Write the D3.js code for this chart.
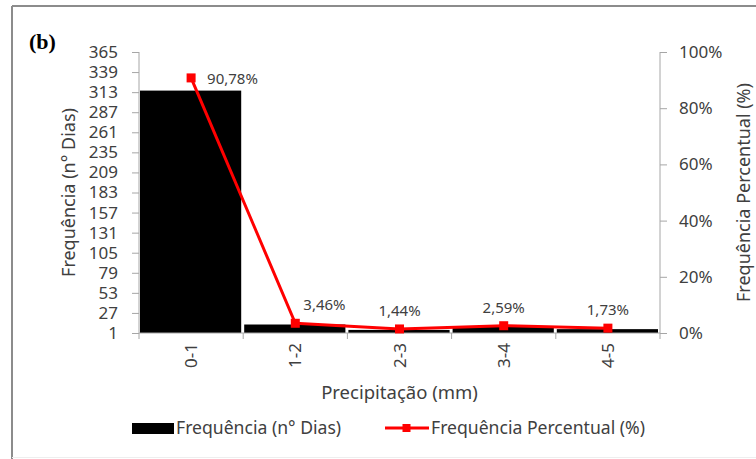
<!DOCTYPE html>
<html>
<head>
<meta charset="utf-8">
<script src="https://cdn.jsdelivr.net/npm/d3@7"></script>
<style>
  body { margin: 0; background: #fff; }
  text { font-family: "Noto Sans", sans-serif; fill: #404040; }
</style>
</head>
<body>
<div id="content"></div>
<script>
let width = 756;
let height = 459;
let margin = ({top: 52, right: 96, bottom: 126, left: 139});

// Data
let categories = ["0-1", "1-2", "2-3", "3-4", "4-5"];
let dias = [315, 12, 5, 9, 6];
let percentual = [90.78, 3.46, 1.44, 2.59, 1.73];
let leftTicks = [1, 27, 53, 79, 105, 131, 157, 183, 209, 235, 261, 287, 313, 339, 365];
let rightTicks = [0, 20, 40, 60, 80, 100];

let axisColor = "#a6a6a6";

let svg = d3.select("#content")
    .append("svg")
    .attr("width", width)
    .attr("height", height);

// outer frame (top + left edges only, like the cropped figure)
svg.append("line").attr("x1", 12).attr("x2", width).attr("y1", 6).attr("y2", 6)
    .attr("stroke", "#8c8c8c").attr("stroke-width", 2);
svg.append("line").attr("x1", 12).attr("x2", 12).attr("y1", 6).attr("y2", height)
    .attr("stroke", "#8c8c8c").attr("stroke-width", 2);
svg.append("line").attr("x1", 12).attr("x2", width).attr("y1", 457.5).attr("y2", 457.5)
    .attr("stroke", "#eeeeee").attr("stroke-width", 1);

svg.append("text")
    .attr("x", 29).attr("y", 49)
    .style("font-family", "'Liberation Serif', serif")
    .style("font-weight", "bold")
    .style("font-size", "22px")
    .style("fill", "#000")
    .text("(b)");

let x0 = margin.left, x1 = width - margin.right;
let y0 = height - margin.bottom, y1 = margin.top;

let xScale = d3.scaleBand()
    .domain(categories)
    .range([x0, x1]);

let yLeft = d3.scaleLinear().domain([1, 365]).range([y0, y1]);
let yRight = d3.scaleLinear().domain([0, 100]).range([y0, y1]);

// bars
svg.selectAll(".bar")
    .data(categories)
    .enter()
    .append("rect")
    .attr("class", "bar")
    .attr("x", d => xScale(d) + 1)
    .attr("width", xScale.bandwidth() - 3)
    .attr("y", (d, i) => yLeft(dias[i]))
    .attr("height", (d, i) => yLeft(1) - yLeft(dias[i]))
    .attr("fill", "#000");

// left axis
let leftAxis = svg.append("g")
    .attr("transform", "translate(" + x0 + ",0)")
    .call(d3.axisLeft(yLeft).tickValues(leftTicks).tickSize(7).tickPadding(14).tickFormat(d3.format("d")));

// right axis
let rightAxis = svg.append("g")
    .attr("transform", "translate(" + x1 + ",0)")
    .call(d3.axisRight(yRight).tickValues(rightTicks).tickSize(7).tickPadding(12).tickFormat(d => d + "%"));

// x axis with ticks at category boundaries
let xAxis = svg.append("g")
    .attr("transform", "translate(0," + y0 + ")");
xAxis.append("line")
    .attr("x1", x0).attr("x2", x1).attr("y1", 0).attr("y2", 0)
    .attr("stroke", axisColor);
let bounds = categories.map(c => xScale(c)).concat([x1]);
xAxis.selectAll(".xtick")
    .data(bounds)
    .enter()
    .append("line")
    .attr("x1", d => d).attr("x2", d => d)
    .attr("y1", 0).attr("y2", 6)
    .attr("stroke", axisColor);
xAxis.selectAll(".xlabel")
    .data(categories)
    .enter()
    .append("text")
    .attr("transform", d => "translate(" + (xScale(d) + xScale.bandwidth() / 2 + 6) + ",10) rotate(-90)")
    .attr("text-anchor", "end")
    .style("font-size", "17px")
    .text(d => d);

[leftAxis, rightAxis].forEach(function(g) {
    g.select(".domain").attr("stroke", axisColor);
    g.selectAll(".tick line").attr("stroke", axisColor);
    g.selectAll(".tick text")
        .style("font-family", "'Noto Sans', sans-serif")
        .style("font-size", "17px")
        .attr("fill", "#404040");
});
leftAxis.select(".domain").attr("d", "M0," + y0 + "V" + y1);
rightAxis.select(".domain").attr("d", "M0," + y0 + "V" + y1);

// line series
let pts = categories.map((c, i) => [xScale(c) + xScale.bandwidth() / 2, yRight(percentual[i])]);
svg.append("path")
    .datum(pts)
    .attr("d", d3.line())
    .attr("fill", "none")
    .attr("stroke", "#ff0000")
    .attr("stroke-width", 3)
    .attr("stroke-linejoin", "round");

svg.selectAll(".marker")
    .data(pts)
    .enter()
    .append("rect")
    .attr("class", "marker")
    .attr("x", d => d[0] - 4.5)
    .attr("y", d => d[1] - 4.5)
    .attr("width", 9)
    .attr("height", 9)
    .attr("fill", "#ff0000");

// data labels (first to the right, second above-right, rest above)
let fmt = v => v.toFixed(2).replace(".", ",") + "%";
svg.selectAll(".plabel")
    .data(pts)
    .enter()
    .append("text")
    .attr("x", (d, i) => i === 0 ? d[0] + 16 : i === 1 ? d[0] + 8 : d[0])
    .attr("y", (d, i) => i === 0 ? d[1] + 6 : d[1] - 13)
    .attr("text-anchor", (d, i) => i < 2 ? "start" : "middle")
    .style("font-size", "15px")
    .text((d, i) => fmt(percentual[i]));

// axis titles
svg.append("text")
    .attr("transform", "translate(75," + ((y0 + y1) / 2) + ") rotate(-90)")
    .attr("text-anchor", "middle")
    .style("font-size", "18px")
    .text("Frequência (n° Dias)");

svg.append("text")
    .attr("transform", "translate(750," + ((y0 + y1) / 2) + ") rotate(-90)")
    .attr("text-anchor", "middle")
    .style("font-size", "18px")
    .text("Frequência Percentual (%)");

svg.append("text")
    .attr("x", (x0 + x1) / 2)
    .attr("y", 399)
    .attr("text-anchor", "middle")
    .style("font-size", "18.5px")
    .text("Precipitação (mm)");

// legend
let legend = svg.append("g");
legend.append("rect")
    .attr("x", 132).attr("y", 423).attr("width", 42).attr("height", 11)
    .attr("fill", "#000");
legend.append("text")
    .attr("x", 176).attr("y", 434)
    .style("font-size", "17.6px")
    .text("Frequência (n° Dias)");
legend.append("line")
    .attr("x1", 385).attr("x2", 429).attr("y1", 428).attr("y2", 428)
    .attr("stroke", "#ff0000").attr("stroke-width", 3);
legend.append("rect")
    .attr("x", 402.5).attr("y", 424).attr("width", 8).attr("height", 8)
    .attr("fill", "#ff0000");
legend.append("text")
    .attr("x", 431).attr("y", 434)
    .style("font-size", "17.6px")
    .text("Frequência Percentual (%)");
</script>
</body>
</html>
